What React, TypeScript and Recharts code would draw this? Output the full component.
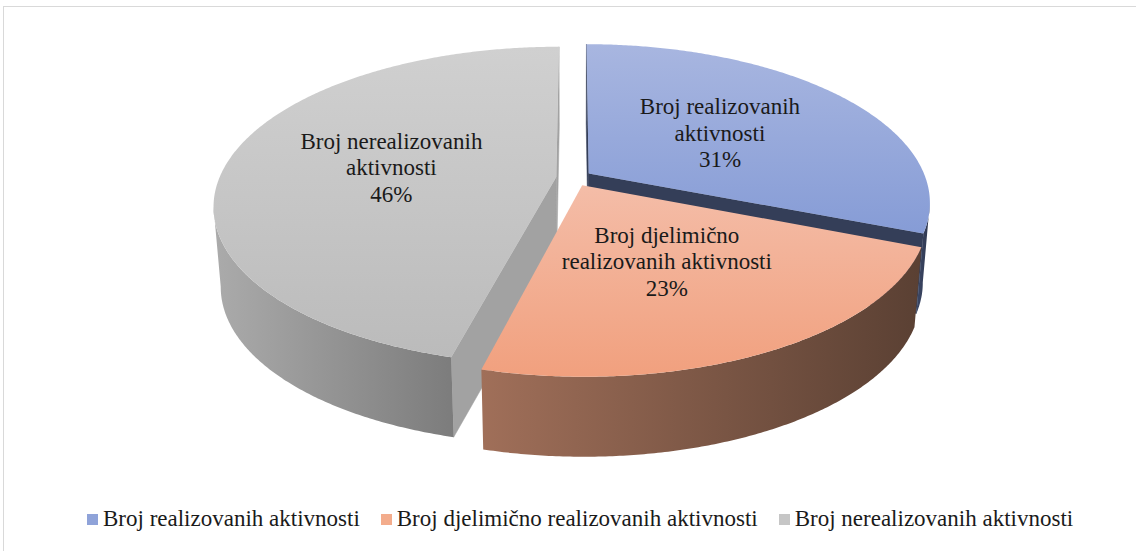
import React from 'react';
import { PieChart, Pie, Legend } from 'recharts';

const categories = [
  'Broj realizovanih aktivnosti',
  'Broj djelimično realizovanih aktivnosti',
  'Broj nerealizovanih aktivnosti',
];
const values = [31, 23, 46];
const labelLines = [
  ['Broj realizovanih', 'aktivnosti'],
  ['Broj djelimično', 'realizovanih aktivnosti'],
  ['Broj nerealizovanih', 'aktivnosti'],
];
const topColors = [
  ['#a8b6e0', '#869cd6'],
  ['#f4bda8', '#f1a07e'],
  ['#d0d0d0', '#bbbbbb'],
];
const wallColors = [
  ['#3d4866', '#2e374f'],
  ['#a06f59', '#5a4033'],
  ['#ababab', '#7c7c7c'],
];
const faceColors = ['#343e58', '#6b4a3b', '#a2a2a2'];
const legendColors = ['#8fa3d9', '#f3ac8c', '#c6c6c6'];

const data = categories.map((name, i) => ({ name, value: values[i] }));

const TILT = 0.457;
const PERSP = 0.18;
const DEPTH = 80;
const EXPLODE = 0.053;
const SHRINK = 0.98;
const RAD = Math.PI / 180;
const CAM_V = -1 / PERSP;
const FONT = "'Liberation Serif', 'Times New Roman', serif";

function project(g: any, u: number, v: number, bottom: boolean) {
  const s = 1 / (1 + PERSP * v);
  let x = g.cx + g.r * u * s;
  let y = g.cy - g.r * TILT * v * s;
  if (bottom) {
    x = g.cx + (x - g.cx) * SHRINK;
    y += DEPTH;
  }
  return [x, y];
}

function geom(p: any) {
  const a0 = p.startAngle;
  const a1 = p.endAngle;
  const mid = (a0 + a1) / 2;
  const ou = EXPLODE * Math.cos(mid * RAD);
  const ov = EXPLODE * Math.sin(mid * RAD);
  const n = Math.max(8, Math.ceil(Math.abs(a1 - a0) / 0.5));
  const angles: number[] = [];
  for (let i = 0; i <= n; i++) angles.push(a0 + ((a1 - a0) * i) / n);
  return { cx: p.cx, cy: p.cy, r: p.outerRadius, a0, a1, mid, ou, ov, angles };
}

const rimPt = (g: any, a: number, bottom: boolean) =>
  project(g, g.ou + Math.cos(a * RAD), g.ov + Math.sin(a * RAD), bottom);
const apexPt = (g: any, bottom: boolean) => project(g, g.ou, g.ov, bottom);

const toPath = (pts: number[][]) =>
  pts.map((p, i) => (i ? 'L' : 'M') + p[0].toFixed(2) + ',' + p[1].toFixed(2)).join('') + 'Z';

function renderFaces(props: any) {
  const g = geom(props);
  const idx = props.index;
  const faces = [
    { a: g.a0, nu: -Math.sin(g.a0 * RAD), nv: Math.cos(g.a0 * RAD) },
    { a: g.a1, nu: Math.sin(g.a1 * RAD), nv: -Math.cos(g.a1 * RAD) },
  ];
  return (
    <g key={`face-${idx}`}>
      {faces.map((f, k) => {
        const dot = f.nu * (0 - g.ou) + f.nv * (CAM_V - g.ov);
        if (dot <= 0) return null;
        const pts = [apexPt(g, false), rimPt(g, f.a, false), rimPt(g, f.a, true), apexPt(g, true)];
        return <path key={k} d={toPath(pts)} fill={faceColors[idx]} stroke={faceColors[idx]} strokeWidth={0.5} />;
      })}
    </g>
  );
}

function renderRim(props: any) {
  const g = geom(props);
  const idx = props.index;
  const vis = g.angles.map((a) => {
    const c = Math.cos(a * RAD);
    const s = Math.sin(a * RAD);
    return c * (0 - (g.ou + c)) + s * (CAM_V - (g.ov + s)) > 0;
  });
  const runs: number[][] = [];
  let start = -1;
  for (let i = 0; i < vis.length; i++) {
    if (vis[i] && start < 0) start = i;
    if ((!vis[i] || i === vis.length - 1) && start >= 0) {
      runs.push([start, vis[i] ? i : i - 1]);
      start = -1;
    }
  }
  const id = `rimgrad-${idx}`;
  return (
    <g key={`rim-${idx}`}>
      <defs>
        <linearGradient id={id} x1="0" y1="0" x2="1" y2="0">
          <stop offset="0" stopColor={wallColors[idx][0]} />
          <stop offset="1" stopColor={wallColors[idx][1]} />
        </linearGradient>
      </defs>
      {runs.map(([i0, i1], k) => {
        const s0 = Math.max(0, i0 - 1);
        const s1 = Math.min(g.angles.length - 1, i1 + 1);
        const tops: number[][] = [];
        const bots: number[][] = [];
        for (let i = s0; i <= s1; i++) {
          tops.push(rimPt(g, g.angles[i], false));
          bots.push(rimPt(g, g.angles[i], true));
        }
        return <path key={k} d={toPath(tops.concat(bots.reverse()))} fill={`url(#${id})`} />;
      })}
    </g>
  );
}

function renderTop(props: any) {
  const g = geom(props);
  const idx = props.index;
  const pts = [apexPt(g, false)].concat(g.angles.map((a) => rimPt(g, a, false)));
  const id = `topgrad-${idx}`;
  const c = project(g, g.ou + 0.5 * Math.cos(g.mid * RAD), g.ov + 0.5 * Math.sin(g.mid * RAD), false);
  const lines = [...labelLines[idx], `${Math.round(props.percent * 100)}%`];
  const pitch = 26.5;
  return (
    <g key={`top-${idx}`}>
      <defs>
        <linearGradient id={id} x1="0" y1="0" x2="0" y2="1">
          <stop offset="0" stopColor={topColors[idx][0]} />
          <stop offset="1" stopColor={topColors[idx][1]} />
        </linearGradient>
      </defs>
      <path d={toPath(pts)} fill={`url(#${id})`} />
      <text x={c[0]} y={c[1] - pitch + 8} textAnchor="middle" fontFamily={FONT} fontSize={23} fill="#1a1a1a">
        {lines.map((t, k) => (
          <tspan key={k} x={c[0]} dy={k === 0 ? 0 : pitch}>
            {t}
          </tspan>
        ))}
      </text>
    </g>
  );
}

function renderLegend(props: any) {
  const seen: Record<string, boolean> = {};
  const payload = (props.payload || [])
    .filter((item: any) => {
      if (categories.indexOf(item.value) < 0 || seen[item.value]) return false;
      seen[item.value] = true;
      return true;
    })
    .sort((a: any, b: any) => categories.indexOf(a.value) - categories.indexOf(b.value));
  return (
    <div style={{ display: 'flex', alignItems: 'center', paddingLeft: 87, whiteSpace: 'nowrap' }}>
      {payload.map((item: any) => {
        const i = categories.indexOf(item.value);
        return (
          <div key={item.value} style={{ display: 'flex', alignItems: 'center', marginRight: 21 }}>
            <span style={{ width: 11, height: 11, background: legendColors[i], display: 'inline-block', marginRight: 5 }} />
            <span style={{ fontFamily: FONT, fontSize: 23, color: '#1a1a1a', lineHeight: '26px' }}>{item.value}</span>
          </div>
        );
      })}
    </div>
  );
}

const pieCommon = {
  data,
  dataKey: 'value',
  nameKey: 'name',
  cx: 574,
  cy: 178,
  outerRadius: 337,
  startAngle: 90,
  endAngle: -270,
  fill: 'transparent',
  stroke: 'none',
  labelLine: false,
  isAnimationActive: false,
};

export default function App() {
  return (
    <div style={{ position: 'absolute', left: 0, top: 0, width: 1136, height: 551, background: '#fff', overflow: 'hidden' }}>
      <div
        style={{
          position: 'absolute',
          left: 3,
          top: 6,
          width: 1133,
          height: 545,
          borderTop: '1px solid #d9d9d9',
          borderLeft: '1px solid #d9d9d9',
          boxSizing: 'border-box',
        }}
      />
      <div style={{ position: 'absolute', left: 0, top: 0 }}>
        <PieChart width={1136} height={551} margin={{ top: 0, right: 0, bottom: 0, left: 0 }}>
          <Pie {...(pieCommon as any)} legendType="none" label={renderFaces} />
          <Pie {...(pieCommon as any)} legendType="none" label={renderRim} />
          <Pie {...(pieCommon as any)} label={renderTop} />
          <Legend
            content={renderLegend}
            wrapperStyle={{ position: 'absolute', top: 506, left: 0, width: 1136, height: 30 }}
          />
        </PieChart>
      </div>
    </div>
  );
}
